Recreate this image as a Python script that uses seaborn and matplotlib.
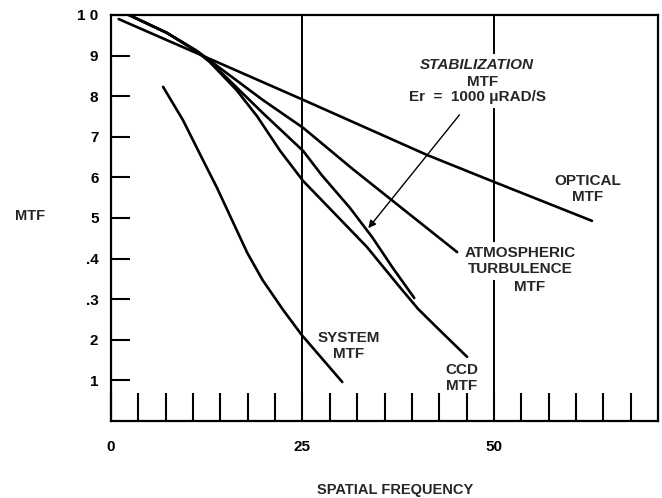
import matplotlib
matplotlib.use("Agg")
import matplotlib.pyplot as plt
import seaborn as sns
import pandas as pd
import numpy as np

# ---- data ----
optical_x = [1.0, 11.2, 25.1, 41.3, 50.0, 62.8]
optical_y = [9.90, 9.06, 7.91, 6.55, 5.89, 4.93]

atmos_x = [2.35, 7.3, 11.2, 12.9, 19.8, 25.1, 31.6, 45.2]
atmos_y = [10.0, 9.56, 9.12, 8.88, 7.91, 7.22, 6.20, 4.16]

stab_x = [2.35, 7.3, 11.2, 12.9, 19.8, 25.1, 27.5, 31.2, 34.1, 36.8, 39.6]
stab_y = [10.0, 9.56, 9.11, 8.86, 7.59, 6.65, 6.06, 5.25, 4.53, 3.77, 3.03]

ccd_x = [2.35, 7.3, 11.2, 12.9, 16.4, 19.1, 22.1, 25.1, 29.0, 33.4, 37.7, 40.1, 42.9, 46.5]
ccd_y = [10.0, 9.56, 9.10, 8.84, 8.15, 7.50, 6.65, 5.91, 5.15, 4.29, 3.30, 2.76, 2.24, 1.58]

system_x = [6.8, 9.4, 12.0, 13.8, 15.8, 17.8, 19.8, 22.5, 24.9, 30.2]
system_y = [8.23, 7.41, 6.43, 5.76, 4.95, 4.14, 3.47, 2.73, 2.12, 0.96]

y_ticks = [1, 2, 3, 4, 5, 6, 7, 8, 9, 10]
y_tick_labels = ["1", "2", ".3", ".4", "5", "6", "7", "8", "9", "1 0"]
x_label_ticks = [0, 25, 50]
x_max = 50 + 6 * 25 / 7
x_minor_step = 25 / 7
guide_lines = [25, 50]

frames = []
for name, xs, ys in [("optical", optical_x, optical_y),
                     ("atmospheric", atmos_x, atmos_y),
                     ("stabilization", stab_x, stab_y),
                     ("ccd", ccd_x, ccd_y),
                     ("system", system_x, system_y)]:
    frames.append(pd.DataFrame({"curve": name, "freq": xs, "mtf": ys}))
df = pd.concat(frames, ignore_index=True)

sns.set_theme(style="white")
plt.rcParams["font.family"] = ["Liberation Sans", "DejaVu Sans"]
plt.rcParams["font.weight"] = "bold"

fig = plt.figure(figsize=(6.62, 4.98), dpi=100)
ax = fig.add_axes([111 / 662, 1 - 421 / 498, (658 - 111) / 662, (421 - 15) / 498])

for v in guide_lines:
    ax.axvline(v, color="black", lw=1.4, zorder=1)

sns.lineplot(data=df, x="freq", y="mtf", units="curve", estimator=None,
             sort=False, color="black", lw=1.9, ax=ax, zorder=3, legend=False)

ax.set_xlim(0, x_max)
ax.set_ylim(0, 10)

for s in ax.spines.values():
    s.set_color("black")
    s.set_linewidth(1.6)

xt = [k * x_minor_step for k in range(0, 20)]
ax.set_xticks(xt)
ax.set_xticklabels([str(int(round(t))) if any(abs(t - l) < 1e-6 for l in x_label_ticks) else "" for t in xt])
ax.set_yticks(y_ticks)
ax.set_yticklabels(y_tick_labels)
ax.tick_params(axis="x", direction="in", length=20, width=1.5, pad=14,
               labelsize=11, colors="black", bottom=True)
ax.tick_params(axis="y", direction="in", length=14, width=1.5, pad=9,
               labelsize=11, colors="black", left=True)
for lab in ax.get_xticklabels() + ax.get_yticklabels():
    lab.set_fontweight("bold")

ax.set_xlabel("SPATIAL FREQUENCY", fontsize=10.5, fontweight="bold", va="center")
ax.xaxis.set_label_coords(0.519, -0.17)
ax.set_ylabel("MTF", fontsize=10.5, fontweight="bold", rotation=0,
              ha="center", va="center")
ax.yaxis.set_label_coords(-0.148, 0.505)

wb = dict(facecolor="white", edgecolor="none", boxstyle="square,pad=0.25")
tk = dict(fontsize=11, fontweight="bold", ha="center", va="center")

ax.text(48.5, 8.35, "MTF", bbox=dict(facecolor="white", edgecolor="none",
                                      boxstyle="square,pad=0.7"), zorder=4.6, **tk)
ax.text(47.8, 8.77, "STABILIZATION", style="italic", bbox=wb, zorder=5, **tk)
ax.text(47.9, 7.98, "Er  =  1000 \u03bcRAD/S", bbox=wb, zorder=5, **tk)

ax.annotate("", xy=(33.6, 4.75), xytext=(45.5, 7.54),
            arrowprops=dict(arrowstyle="-|>", color="black", lw=1.0,
                            mutation_scale=11, shrinkA=0, shrinkB=0), zorder=4)

ax.text(62.2, 5.72, "OPTICAL\nMTF", linespacing=1.15, zorder=5, **tk)
ax.text(53.5, 3.94, "ATMOSPHERIC\nTURBULENCE", linespacing=1.15, bbox=wb, zorder=5, **tk)
ax.text(54.7, 3.30, "MTF", zorder=5, **tk)
ax.text(31.0, 1.85, "SYSTEM\nMTF", linespacing=1.15, zorder=5, **tk)
ax.text(45.8, 1.06, "CCD\nMTF", linespacing=1.15, zorder=5, **tk)

fig.savefig("out.png", dpi=100, facecolor="white")
